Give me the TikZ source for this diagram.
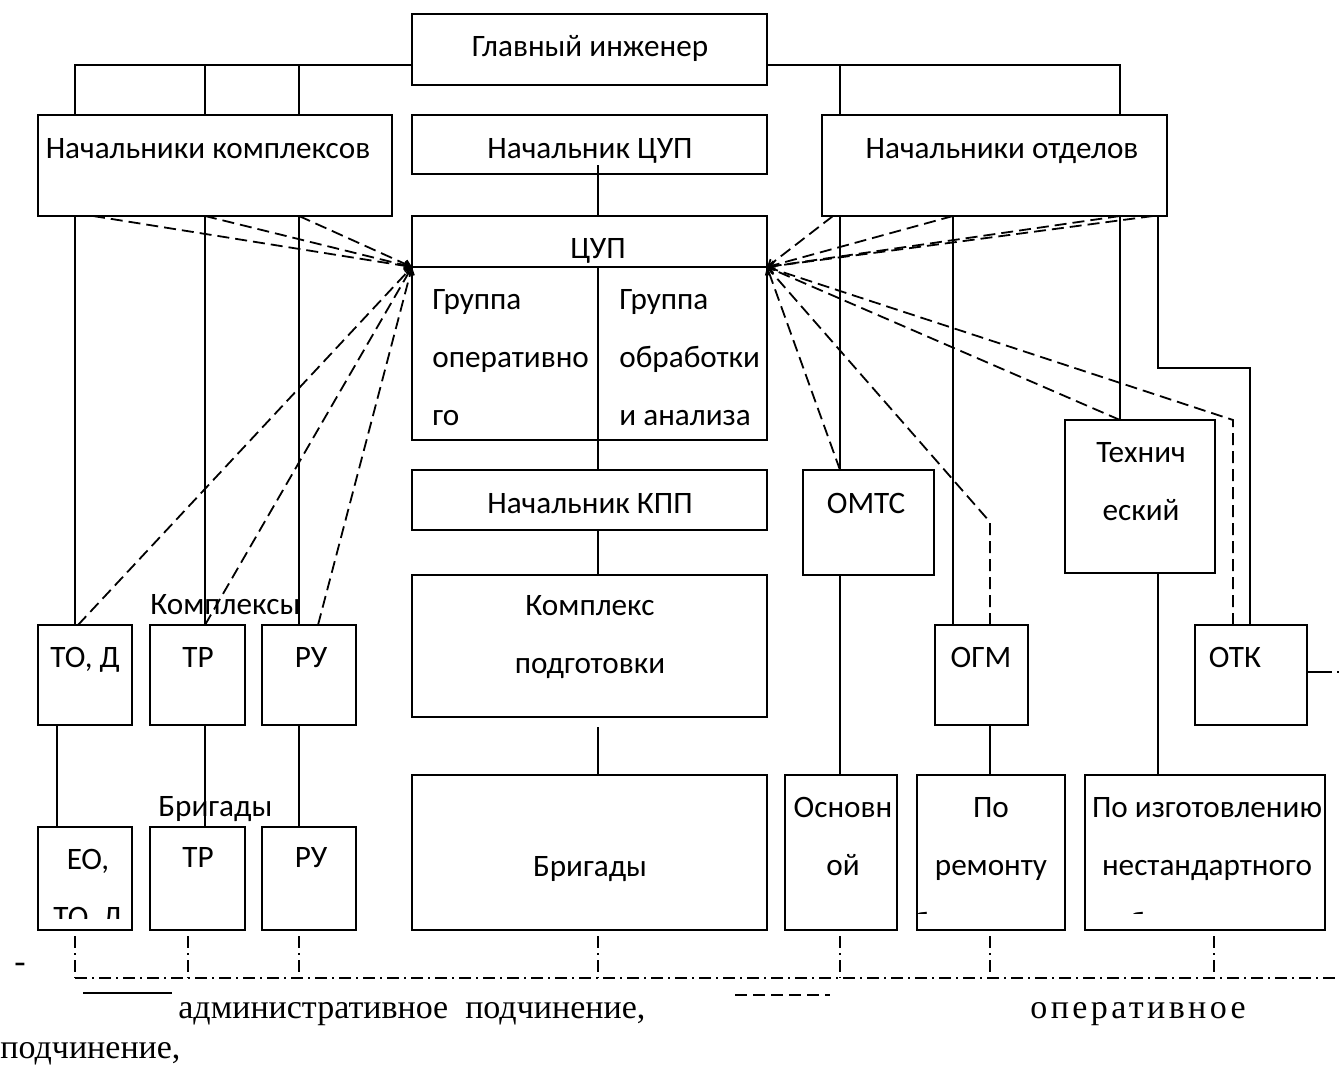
\documentclass[tikz,border=0pt]{standalone}
\usepackage{fontspec}
\newfontfamily\boxfont{Carlito}
\newfontfamily\legfont{Liberation Serif}
\usetikzlibrary{arrows.meta}

\begin{document}
\begin{tikzpicture}[x=0.5pt, y=-0.5pt,
        box/.style={draw, line width=1pt, inner sep=0pt, outer sep=0pt},
        sz/.style 2 args={minimum width=#1*0.5pt, minimum height=#2*0.5pt},
        txt/.style={font=\boxfont\fontsize{15.6}{29}\selectfont, inner sep=0pt, align=center},
        lines/.style={txt, anchor=north, execute at begin node=\strut},
        leg/.style={font=\legfont\fontsize{17}{20}\selectfont, inner sep=0pt},
        adm/.style={line width=0.9pt},
        opl/.style={line width=0.9pt, dash pattern=on 6pt off 3pt},
        op/.style={opl, -{Straight Barb[length=3pt, width=4pt]}},
        bus/.style={line width=0.9pt, dash pattern=on 6pt off 2.5pt on 1pt off 2.5pt}]
    \useasboundingbox (0,0) rectangle (1340,1066);
    % boxes
    \node[box, sz={355}{71}] (gi) at (589.5,49.5) {};
    \node[box, sz={354}{101}] (nk) at (215,165.5) {};
    \node[box, sz={355}{59}] (ncup) at (589.5,144.5) {};
    \node[box, sz={345}{101}] (no) at (994.5,165.5) {};
    \node[box, sz={355}{224}] (cup) at (589.5,328) {};
    \node[box, sz={355}{60}] (nkpp) at (589.5,500) {};
    \node[box, sz={355}{142}] (kp) at (589.5,646) {};
    \node[box, sz={355}{155}] (brig) at (589.5,852.5) {};
    \node[box, sz={94}{100}] (tod) at (85,675) {};
    \node[box, sz={95}{100}] (tr1) at (197.5,675) {};
    \node[box, sz={94}{100}] (ru1) at (309,675) {};
    \node[box, sz={94}{103}] (eo) at (85,878.5) {};
    \node[box, sz={95}{103}] (tr2) at (197.5,878.5) {};
    \node[box, sz={94}{103}] (ru2) at (309,878.5) {};
    \node[box, sz={131}{105}] (omts) at (868.5,522.5) {};
    \node[box, sz={112}{155}] (osn) at (841,852.5) {};
    \node[box, sz={93}{100}] (ogm) at (981.5,675) {};
    \node[box, sz={148}{155}] (porem) at (991,852.5) {};
    \node[box, sz={150}{153}] (tech) at (1140,496.5) {};
    \node[box, sz={112}{100}] (otk) at (1251,675) {};
    \node[box, sz={240}{155}] (poizg) at (1205,852.5) {};
    % texts
    \node[txt, anchor=base] (gi-t) at (590,56) {Главный инженер};
    \node[txt, anchor=base] (nk-t) at (208,158) {Начальники комплексов};
    \node[txt, anchor=base] (ncup-t) at (590,158) {Начальник ЦУП};
    \node[txt, anchor=base] (no-t) at (1002,158) {Начальники отделов};
    \node[txt, anchor=base] (cup-t) at (598,258) {ЦУП};
    \node[lines, anchor=north west, align=left] (gr1) at (432,289) {Группа\\оперативно\\го};
    \node[lines, anchor=north west, align=left] (gr2) at (619,289) {Группа\\обработки\\и анализа};
    \node[txt, anchor=base] (nkpp-t) at (590,513) {Начальник КПП};
    \node[lines] (kp-t) at (590,595) {Комплекс\\подготовки};
    \node[txt, anchor=base] (brig-t) at (590,876) {Бригады};
    \node[txt, anchor=base] (tod-t) at (85,667) {ТО, Д};
    \node[txt, anchor=base] (tr1-t) at (198,667) {ТР};
    \node[txt, anchor=base] (ru1-t) at (311,667) {РУ};
    \node[txt, anchor=base west] (kompl) at (150,614) {Комплексы};
    \node[txt, anchor=base west] (brigl) at (158,816) {Бригады};
    \node[txt, anchor=base] (tr2-t) at (198,867) {ТР};
    \node[txt, anchor=base] (ru2-t) at (311,867) {РУ};
    \node[txt, anchor=base] (omts-t) at (866,513) {ОМТС};
    \node[lines] (osn-t) at (843,797) {Основн\\ой};
    \node[txt, anchor=base] (ogm-t) at (981,667) {ОГМ};
    \node[lines] (tech-t) at (1141,442) {Технич\\еский};
    \node[txt, anchor=base] (otk-t) at (1235,667) {ОТК};
    \begin{scope}
        \clip (eo.north west) rectangle (eo.east |- 0,918);
        \node[lines] (eo-t) at (88,849) {ЕО,\\ТО, Д};
    \end{scope}
    \begin{scope}
        \clip (porem.north west) rectangle (porem.east |- 0,913);
        \node[lines] (porem-t) at (991,797) {По\\ремонту\\оборудования};
    \end{scope}
    \begin{scope}
        \clip (poizg.north west) rectangle (poizg.east |- 0,913);
        \node[lines] (poizg-t) at (1207,797) {По изготовлению\\нестандартного\\оборудования};
    \end{scope}
    % administrative lines
    \coordinate (trunk) at (0,65);
    \draw[adm] (gi.west |- trunk) -| (75,0 |- nk.north);
    \foreach \x in {205,299} \draw[adm] (\x,0 |- trunk) -- (\x,0 |- nk.north);
    \draw[adm] (gi.east |- trunk) -| (1120,0 |- no.north);
    \draw[adm] (840,0 |- trunk) -- (840,0 |- no.north);
    \foreach \x/\a/\b in {75/nk/tod, 205/nk/tr1, 299/nk/ru1, 57/tod/eo, 205/tr1/tr2, 299/ru1/ru2,
            598/cup/nkpp, 598/nkpp/kp, 840/no/omts, 953/no/ogm,
            1120/no/tech, 840/omts/osn, 990/ogm/porem, 1158/tech/poizg}
        \draw[adm] (\x,0 |- \a.south) -- (\x,0 |- \b.north);
    \draw[adm] (598,0 |- ncup.south) ++(0,-9) -- (598,0 |- cup.north);
    \draw[adm] (598,0 |- kp.south) ++(0,10) -- (598,0 |- brig.north);
    \draw[adm] (1158,0 |- no.south) |- (1250,368) -- (1250,0 |- otk.north);
    % inside ЦУП
    \path (cup.north west) ++(0,51) coordinate (cl);
    \path (cup.north east) ++(0,51) coordinate (cr);
    \draw[adm] (cl) -- (cr);
    \draw[adm] (598,0 |- cl) -- (598,0 |- cup.south);
    % operative lines
    \foreach \x in {93,205,299} \draw[op] (\x,0 |- nk.south) -- (cl);
    \foreach \x/\b in {78/tod, 205/tr1, 318/ru1} \draw[op] (\x,0 |- \b.north) -- (cl);
    \foreach \x in {833,953,1120,1153} \draw[op] (\x,0 |- no.south) -- (cr);
    \foreach \x/\b in {840/omts, 1120/tech} \draw[op] (\x,0 |- \b.north) -- (cr);
    \draw[op] (990,0 |- ogm.north) -- (990,522) -- (cr);
    \draw[op] (1233,0 |- otk.north) -- (1233,0 |- tech.north) -- (cr);
    % bottom line
    \coordinate (bus) at (0,978);
    \foreach \x/\n in {75/eo, 188/tr2, 299/ru2, 598/brig, 840/osn, 990/porem, 1214/poizg}
        \draw[bus] (\x,0 |- \n.south) ++(0,6) -- (\x,0 |- bus);
    \draw[bus] (75,0 |- bus) -- (1340,0 |- bus);
    \draw[adm] (otk.east |- 0,672) -- ++(13,0) coordinate (otr);
    \draw[bus] (otr) -- (1340,0 |- otr);
    % legend
    \node[leg, anchor=base] (hy) at (20,972) {-};
    \draw[adm] (83,993) -- (172,993);
    \node[leg, anchor=base west] (la) at (178,1018) {административное\ \ подчинение,};
    \draw[opl] (735,995) -- (830,995);
    \node[leg, anchor=base west] (lo) at (1030,1018) {\addfontfeature{LetterSpace=10}оперативное};
    \node[leg, anchor=base west] (lp) at (0,1058) {подчинение,};
\end{tikzpicture}
\end{document}
